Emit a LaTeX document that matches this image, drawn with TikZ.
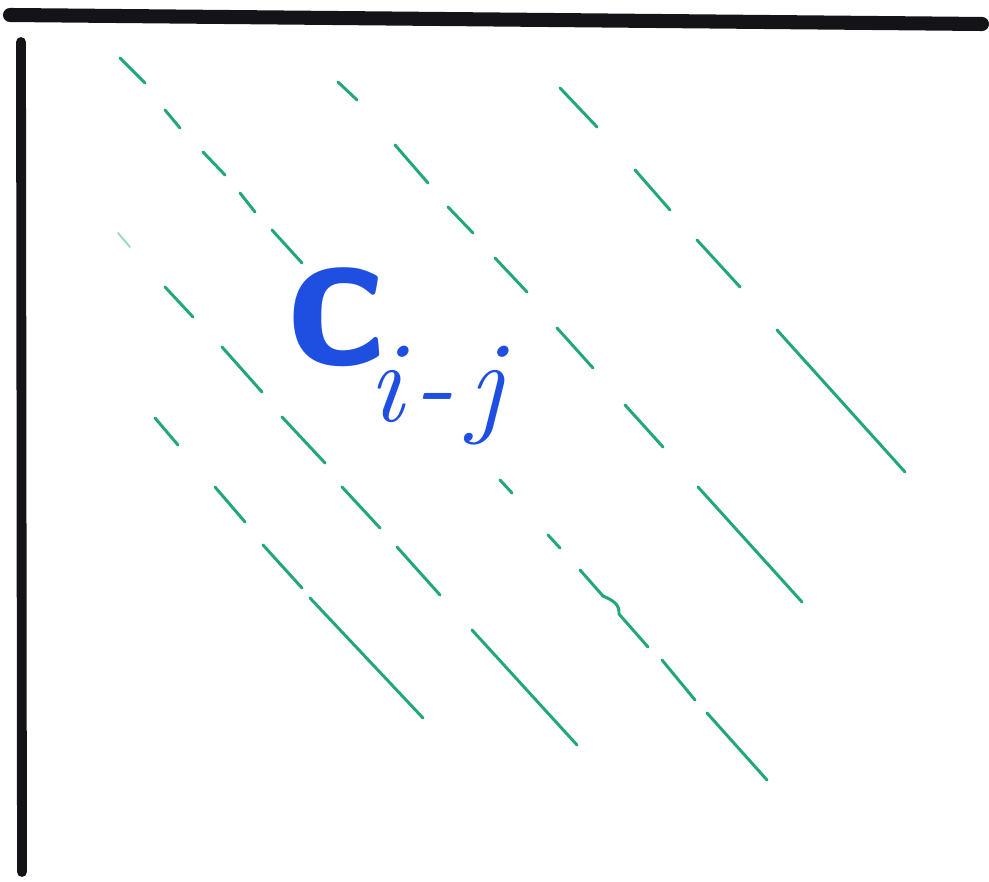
\documentclass[tikz,border=0pt]{standalone}
\usepackage{tikz}
\definecolor{MarkerBlack}{HTML}{141418}
\definecolor{MarkerGreen}{HTML}{22A878}
\definecolor{MarkerBlue}{HTML}{1F4FE0}

\begin{document}
\begin{tikzpicture}[x=0.02cm, y=-0.02cm,
    border/.style={MarkerBlack, line cap=round},
    diagdash/.style={MarkerGreen, line width=1.7pt, line cap=round},
    faintdash/.style={MarkerGreen!45, line width=1.1pt, line cap=round}]
    \useasboundingbox (0,0) rectangle (989,881);

    % matrix edges
    \draw[border, line width=8pt] (10,15) -- (982,24);
    \draw[border, line width=5.6pt] (21,42) -- (22,872);

    % diagonals
    \draw[diagdash] (120,58) -- (145,83);
    \draw[diagdash] (165,110) -- (180,128);
    \draw[diagdash] (203,152) -- (225,175);
    \draw[diagdash] (240,193) -- (255,212);
    \draw[diagdash] (272,230) -- (302,263);
    \draw[faintdash] (118,233) -- (130,247);
    \draw[diagdash] (165,287) -- (193,317);
    \draw[diagdash] (222,347) -- (262,392);
    \draw[diagdash] (155,418) -- (178,445);
    \draw[diagdash] (282,417) -- (325,463);
    \draw[diagdash] (338,82) -- (357,100);
    \draw[diagdash] (395,145) -- (428,183);
    \draw[diagdash] (448,207) -- (473,233);
    \draw[diagdash] (495,258) -- (527,292);
    \draw[diagdash] (560,88) -- (597,127);
    \draw[diagdash] (635,170) -- (670,210);
    \draw[diagdash] (697,240) -- (740,287);
    \draw[diagdash] (557,328) -- (593,368);
    \draw[diagdash] (777,330) -- (905,472);
    \draw[diagdash] (625,405) -- (663,447);
    \draw[diagdash] (215,487) -- (245,522);
    \draw[diagdash] (342,487) -- (380,528);
    \draw[diagdash] (263,545) -- (302,588);
    \draw[diagdash] (397,547) -- (440,595);
    \draw[diagdash] (310,598) -- (423,718);
    \draw[diagdash] (472,630) -- (577,745);
    \draw[diagdash] (500,480) -- (512,493);
    \draw[diagdash] (548,535) -- (560,548);
    \draw[diagdash] (580,570) -- (603,596) .. controls (612,600) and (620,604) .. (619,614) -- (648,647);
    \draw[diagdash] (662,660) -- (695,700);
    \draw[diagdash] (707,713) -- (767,780);
    \draw[diagdash] (698,487) -- (802,602);

    % entry label
    \node[MarkerBlue, anchor=base west, inner sep=0pt] (entry) at (286,364)
        {{\sffamily\bfseries\fontsize{116}{116}\selectfont c}\hspace{-0.35cm}\raisebox{-1.15cm}{\fontsize{66}{66}\selectfont\itshape i\hspace{0.2cm}-\hspace{0.3cm}j}};
\end{tikzpicture}
\end{document}
